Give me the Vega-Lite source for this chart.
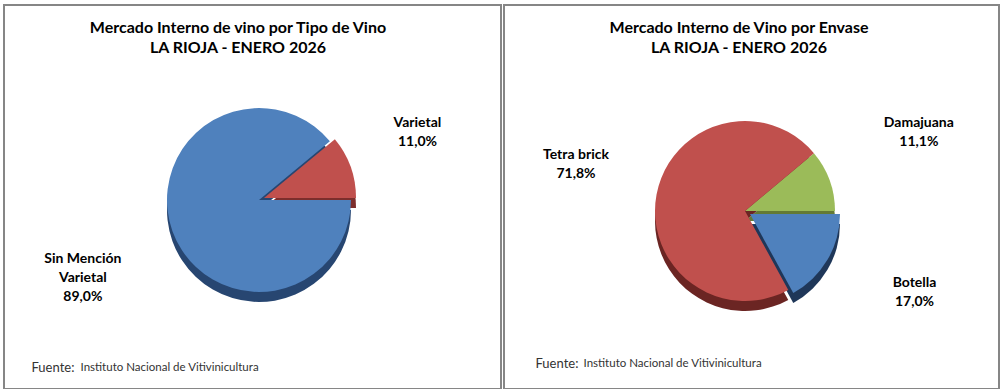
{
  "$schema": "https://vega.github.io/schema/vega-lite/v6.json",
  "padding": {"left": 0, "top": 1, "right": 0, "bottom": 0},
  "background": "white",
  "spacing": -2,
  "config": {
    "view": {"stroke": "#868686", "strokeWidth": 2},
    "font": "Lato",
    "axis": {"minExtent": 0, "maxExtent": 0}
  },
  "hconcat": [
    {
      "width": 497,
      "height": 384,
      "data": {"values": [
        {"tipo": "Varietal", "pct": 11.0, "ord": 1, "label": "Varietal\n11,0%"},
        {"tipo": "Sin Mención Varietal", "pct": 89.0, "ord": 2, "label": "Sin Mención\nVarietal\n89,0%"}
      ]},
      "title": {"text": ["Mercado Interno de vino por Tipo de Vino", "LA RIOJA  - ENERO 2026"], "orient": "top", "anchor": "middle", "frame": "group", "offset": -54, "dx": -14.5, "fontSize": 16, "fontWeight": "bold", "font": "Lato", "color": "black", "lineHeight": 20},
      "resolve": {"scale": {"color": "independent"}},
      "layer": [
        {
          "mark": {"type": "point", "opacity": 0},
          "encoding": {
            "x": {"datum": 0, "type": "quantitative", "axis": {"domain": false, "ticks": false, "labels": false, "grid": false, "title": "Fuente:", "titleX": 27, "titleY": -22, "titleAlign": "left", "titleBaseline": "middle", "titleFontWeight": "normal", "titleFontSize": 13, "titleColor": "#333333", "titleFont": "Lato"}},
            "y": {"datum": 0, "type": "quantitative", "axis": {"domain": false, "ticks": false, "labels": false, "grid": false, "title": "Instituto Nacional de Vitivinicultura", "titleAngle": 0, "titleX": 76, "titleY": 362, "titleAlign": "left", "titleBaseline": "middle", "titleFontWeight": "normal", "titleFontSize": 11.5, "titleColor": "#333333", "titleFont": "Lato"}}
          }
        },
        {
          "mark": {"type": "arc", "radius": 92, "xOffset": 6.5, "yOffset": 13},
          "encoding": {
            "theta": {"field": "pct", "type": "quantitative", "stack": true, "scale": {"range": [0.8796, 7.1628]}},
            "order": {"field": "ord", "type": "quantitative"},
            "color": {"field": "tipo", "type": "nominal", "scale": {"domain": ["Varietal", "Sin Mención Varietal"], "range": ["#7D2E2C", "#274671"]}, "legend": null},
            "opacity": {"condition": {"test": "datum.tipo === 'Varietal'", "value": 0}, "value": 1}
          }
        },
        {
          "mark": {"type": "arc", "radius": 92, "xOffset": 11.5, "yOffset": 11},
          "encoding": {
            "theta": {"field": "pct", "type": "quantitative", "stack": true, "scale": {"range": [0.8796, 7.1628]}},
            "order": {"field": "ord", "type": "quantitative"},
            "color": {"field": "tipo", "type": "nominal", "scale": {"domain": ["Varietal", "Sin Mención Varietal"], "range": ["#7D2E2C", "#274671"]}, "legend": null},
            "opacity": {"condition": {"test": "datum.tipo === 'Varietal'", "value": 1}, "value": 0}
          }
        },
        {
          "mark": {"type": "arc", "radius": 92, "xOffset": 6.5, "yOffset": 3},
          "encoding": {
            "theta": {"field": "pct", "type": "quantitative", "stack": true, "scale": {"range": [0.8796, 7.1628]}},
            "order": {"field": "ord", "type": "quantitative"},
            "color": {"field": "tipo", "type": "nominal", "scale": {"domain": ["Varietal", "Sin Mención Varietal"], "range": ["#C0504D", "#4F81BD"]}, "legend": null},
            "opacity": {"condition": {"test": "datum.tipo === 'Varietal'", "value": 0}, "value": 1}
          }
        },
        {
          "mark": {"type": "arc", "radius": 92, "xOffset": 11.5, "yOffset": 1},
          "encoding": {
            "theta": {"field": "pct", "type": "quantitative", "stack": true, "scale": {"range": [0.8796, 7.1628]}},
            "order": {"field": "ord", "type": "quantitative"},
            "color": {"field": "tipo", "type": "nominal", "scale": {"domain": ["Varietal", "Sin Mención Varietal"], "range": ["#C0504D", "#4F81BD"]}, "legend": null},
            "opacity": {"condition": {"test": "datum.tipo === 'Varietal'", "value": 1}, "value": 0}
          }
        },
        {
          "mark": {"type": "text", "radius": 170, "xOffset": 5, "yOffset": -16, "lineBreak": "\n", "fontWeight": "bold", "fontSize": 14, "lineHeight": 19, "font": "Lato", "color": "black", "align": "center", "baseline": "middle"},
          "encoding": {
            "theta": {"field": "pct", "type": "quantitative", "stack": true, "scale": {"range": [0.8796, 7.1628]}},
            "order": {"field": "ord", "type": "quantitative"},
            "text": {"field": "label", "type": "nominal"},
            "opacity": {"condition": {"test": "datum.tipo === 'Varietal'", "value": 1}, "value": 0}
          }
        },
        {
          "mark": {"type": "text", "radius": 184, "xOffset": 3.5, "yOffset": -0.5, "lineBreak": "\n", "fontWeight": "bold", "fontSize": 14, "lineHeight": 19, "font": "Lato", "color": "black", "align": "center", "baseline": "middle"},
          "encoding": {
            "theta": {"field": "pct", "type": "quantitative", "stack": true, "scale": {"range": [0.8796, 7.1628]}},
            "order": {"field": "ord", "type": "quantitative"},
            "text": {"field": "label", "type": "nominal"},
            "opacity": {"condition": {"test": "datum.tipo === 'Sin Mención Varietal'", "value": 1}, "value": 0}
          }
        }
      ]
    },
    {
      "width": 495,
      "height": 384,
      "data": {"values": [
        {"envase": "Damajuana", "pct": 11.1, "ord": 1, "label": "Damajuana\n11,1%"},
        {"envase": "Botella", "pct": 17.0, "ord": 2, "label": "Botella\n17,0%"},
        {"envase": "Tetra brick", "pct": 71.8, "ord": 3, "label": "Tetra brick\n71,8%"}
      ]},
      "title": {"text": ["Mercado Interno de Vino por Envase", "LA RIOJA  - ENERO 2026"], "orient": "top", "anchor": "middle", "frame": "group", "offset": -54, "dx": -12.5, "fontSize": 16, "fontWeight": "bold", "font": "Lato", "color": "black", "lineHeight": 20},
      "resolve": {"scale": {"color": "independent"}},
      "layer": [
        {
          "mark": {"type": "point", "opacity": 0},
          "encoding": {
            "x": {"datum": 0, "type": "quantitative", "axis": {"domain": false, "ticks": false, "labels": false, "grid": false, "title": "Fuente:", "titleX": 31, "titleY": -26, "titleAlign": "left", "titleBaseline": "middle", "titleFontWeight": "normal", "titleFontSize": 13, "titleColor": "#333333", "titleFont": "Lato"}},
            "y": {"datum": 0, "type": "quantitative", "axis": {"domain": false, "ticks": false, "labels": false, "grid": false, "title": "Instituto Nacional de Vitivinicultura", "titleAngle": 0, "titleX": 79, "titleY": 358, "titleAlign": "left", "titleBaseline": "middle", "titleFontWeight": "normal", "titleFontSize": 11.5, "titleColor": "#333333", "titleFont": "Lato"}}
          }
        },
        {
          "mark": {"type": "arc", "radius": 90, "xOffset": -6.5, "yOffset": 24},
          "encoding": {
            "theta": {"field": "pct", "type": "quantitative", "stack": true, "scale": {"range": [0.8727, 7.1559]}},
            "order": {"field": "ord", "type": "quantitative"},
            "color": {"field": "envase", "type": "nominal", "scale": {"domain": ["Damajuana", "Botella", "Tetra brick"], "range": ["#637A35", "#1F3759", "#6B2523"]}, "legend": null},
            "opacity": {"condition": {"test": "datum.envase === 'Botella'", "value": 0}, "value": 1}
          }
        },
        {
          "mark": {"type": "arc", "radius": 90, "xOffset": -1.5, "yOffset": 27},
          "encoding": {
            "theta": {"field": "pct", "type": "quantitative", "stack": true, "scale": {"range": [0.8727, 7.1559]}},
            "order": {"field": "ord", "type": "quantitative"},
            "color": {"field": "envase", "type": "nominal", "scale": {"domain": ["Damajuana", "Botella", "Tetra brick"], "range": ["#637A35", "#1F3759", "#6B2523"]}, "legend": null},
            "opacity": {"condition": {"test": "datum.envase === 'Botella'", "value": 1}, "value": 0}
          }
        },
        {
          "mark": {"type": "arc", "radius": 90, "xOffset": -6.5, "yOffset": 14},
          "encoding": {
            "theta": {"field": "pct", "type": "quantitative", "stack": true, "scale": {"range": [0.8727, 7.1559]}},
            "order": {"field": "ord", "type": "quantitative"},
            "color": {"field": "envase", "type": "nominal", "scale": {"domain": ["Damajuana", "Botella", "Tetra brick"], "range": ["#9BBB59", "#4F81BD", "#C0504D"]}, "legend": null},
            "opacity": {"condition": {"test": "datum.envase === 'Botella'", "value": 0}, "value": 1}
          }
        },
        {
          "mark": {"type": "arc", "radius": 90, "xOffset": -1.5, "yOffset": 17},
          "encoding": {
            "theta": {"field": "pct", "type": "quantitative", "stack": true, "scale": {"range": [0.8727, 7.1559]}},
            "order": {"field": "ord", "type": "quantitative"},
            "color": {"field": "envase", "type": "nominal", "scale": {"domain": ["Damajuana", "Botella", "Tetra brick"], "range": ["#9BBB59", "#4F81BD", "#C0504D"]}, "legend": null},
            "opacity": {"condition": {"test": "datum.envase === 'Botella'", "value": 1}, "value": 0}
          }
        },
        {
          "mark": {"type": "text", "radius": 185, "xOffset": -6.5, "yOffset": -11, "lineBreak": "\n", "fontWeight": "bold", "fontSize": 14, "lineHeight": 19, "font": "Lato", "color": "black", "align": "center", "baseline": "middle"},
          "encoding": {
            "theta": {"field": "pct", "type": "quantitative", "stack": true, "scale": {"range": [0.8727, 7.1559]}},
            "order": {"field": "ord", "type": "quantitative"},
            "text": {"field": "label", "type": "nominal"},
            "opacity": {"condition": {"test": "datum.envase === 'Damajuana'", "value": 1}, "value": 0}
          }
        },
        {
          "mark": {"type": "text", "radius": 197, "xOffset": -6.5, "yOffset": -14.8, "lineBreak": "\n", "fontWeight": "bold", "fontSize": 14, "lineHeight": 19, "font": "Lato", "color": "black", "align": "center", "baseline": "middle"},
          "encoding": {
            "theta": {"field": "pct", "type": "quantitative", "stack": true, "scale": {"range": [0.8727, 7.1559]}},
            "order": {"field": "ord", "type": "quantitative"},
            "text": {"field": "label", "type": "nominal"},
            "opacity": {"condition": {"test": "datum.envase === 'Botella'", "value": 1}, "value": 0}
          }
        },
        {
          "mark": {"type": "text", "radius": 172, "xOffset": -6.5, "yOffset": -10.3, "lineBreak": "\n", "fontWeight": "bold", "fontSize": 14, "lineHeight": 19, "font": "Lato", "color": "black", "align": "center", "baseline": "middle"},
          "encoding": {
            "theta": {"field": "pct", "type": "quantitative", "stack": true, "scale": {"range": [0.8727, 7.1559]}},
            "order": {"field": "ord", "type": "quantitative"},
            "text": {"field": "label", "type": "nominal"},
            "opacity": {"condition": {"test": "datum.envase === 'Tetra brick'", "value": 1}, "value": 0}
          }
        }
      ]
    }
  ]
}
